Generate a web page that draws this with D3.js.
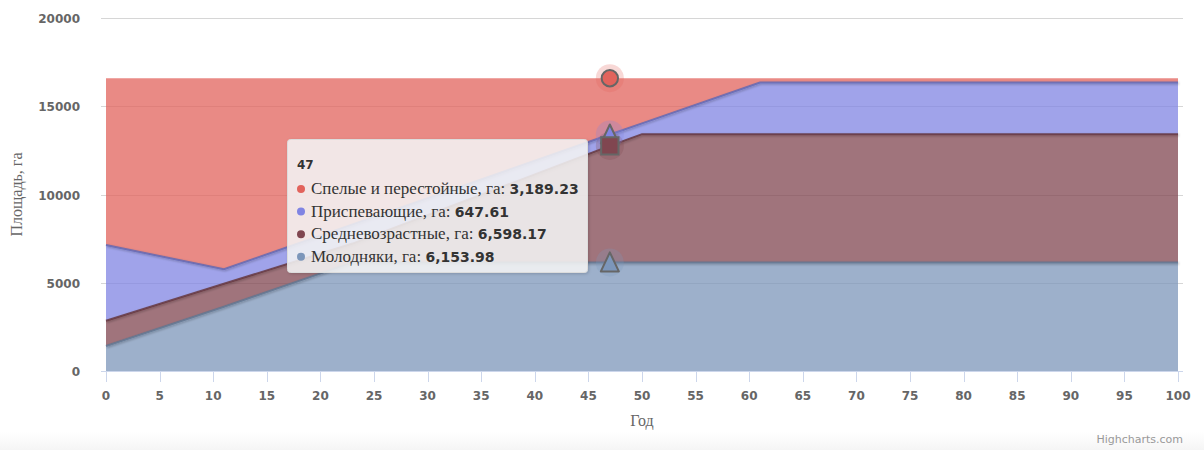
<!DOCTYPE html>
<html>
<head>
<meta charset="utf-8">
<script src="https://cdn.jsdelivr.net/npm/d3@7"></script>
<style>
  html, body { margin: 0; padding: 0; background: #fff; }
  svg { display: block; }
</style>
</head>
<body>
<div id="chart"></div>
<script>
// ---- data ----
const years = [0, 11, 23, 47, 50, 61, 100];
const seriesNames = ["Спелые и перестойные, га", "Приспевающие, га", "Средневозрастные, га", "Молодняки, га"];
const spelye = [9450, 10827, 8281, 3189.23, 2559, 249, 249];
const prispevayushchie = [4289, 822, 1088, 647.61, 610, 2920, 2920];
const srednevozrastnye = [1430, 1300, 1066, 6598.17, 7266, 7266, 7266];
const molodnyaki = [1420, 3640, 6154, 6153.98, 6154, 6154, 6154];
const xTicks = d3.range(0, 101, 5);
const yTicks = [0, 5000, 10000, 15000, 20000];
const hoverYear = 47;
const xTitle = "Год";
const yTitle = "Площадь, га";

// ---- styles ----
const colors = ["#e2635c", "#8084e3", "#804650", "#7c96ba"];
const markerShapes = ["circle", "triangle", "square", "triangle"];
const W = 1204, H = 450;
const plot = { left: 101, right: 1183, top: 18, bottom: 371 };

const svg = d3.select("#chart").append("svg").attr("width", W).attr("height", H);
const defs = svg.append("defs");
const f = defs.append("filter").attr("id", "shadow").attr("x", "-10%").attr("y", "-10%").attr("width", "130%").attr("height", "130%");
f.append("feDropShadow").attr("dx", 1).attr("dy", 1).attr("stdDeviation", 1).attr("flood-color", "#000").attr("flood-opacity", 0.3);
const f2 = defs.append("filter").attr("id", "tshadow").attr("x", "-10%").attr("y", "-10%").attr("width", "130%").attr("height", "130%");
f2.append("feDropShadow").attr("dx", 1).attr("dy", 1).attr("stdDeviation", 1.5).attr("flood-color", "#000").attr("flood-opacity", 0.18);
const g0 = defs.append("linearGradient").attr("id", "bg").attr("x1", 0).attr("y1", 0).attr("x2", 0).attr("y2", 1);
g0.append("stop").attr("offset", "0%").attr("stop-color", "#ffffff");
g0.append("stop").attr("offset", "100%").attr("stop-color", "#f5f5f5");
svg.append("rect").attr("x", 0).attr("y", 432).attr("width", W).attr("height", H - 432).attr("fill", "url(#bg)");

const x = d3.scaleLinear().domain([0, 100]).range([106, 1178]);
const y = d3.scaleLinear().domain([0, 20000]).range([plot.bottom, plot.top]);

// grid
svg.append("g").selectAll("line").data(yTicks.filter(d => d > 0)).join("line")
  .attr("x1", plot.left).attr("x2", plot.right)
  .attr("y1", d => Math.round(y(d)) + 0.5).attr("y2", d => Math.round(y(d)) + 0.5)
  .attr("stroke", "#d6d6d6").attr("stroke-width", 1);

// stack
const table = years.map((yr, i) => ({ year: yr, s0: spelye[i], s1: prispevayushchie[i], s2: srednevozrastnye[i], s3: molodnyaki[i] }));
const stack = d3.stack().keys(["s3", "s2", "s1", "s0"]);
const layers = stack(table); // bottom to top
const area = d3.area().x(d => x(d.data.year)).y0(d => y(d[0])).y1(d => y(d[1]));
const line = d3.line().x(d => x(d.data.year)).y(d => y(d[1]));

const keyIndex = { s0: 0, s1: 1, s2: 2, s3: 3 };
const gSeries = svg.append("g");
layers.forEach(L => {
  const c = colors[keyIndex[L.key]];
  gSeries.append("path").attr("d", area(L)).attr("fill", c).attr("fill-opacity", 0.75);
});
layers.forEach(L => {
  const c = colors[keyIndex[L.key]];
  gSeries.append("path").attr("d", line(L)).attr("fill", "none")
    .attr("stroke", d3.color(c).darker(0.7)).attr("stroke-width", 2).attr("stroke-opacity", 0.85)
    .attr("filter", "url(#shadow)");
});

// x axis
const xa = svg.append("g");
xa.append("line").attr("x1", plot.left).attr("x2", plot.right).attr("y1", 371.5).attr("y2", 371.5).attr("stroke", "#ccd6eb");
xa.selectAll(".tk").data(xTicks).join("line")
  .attr("x1", d => Math.round(x(d)) + 0.5).attr("x2", d => Math.round(x(d)) + 0.5)
  .attr("y1", 372).attr("y2", 382).attr("stroke", "#ccd6eb");
xa.selectAll("text").data(xTicks).join("text")
  .attr("x", d => x(d)).attr("y", 400).attr("text-anchor", "middle")
  .attr("font-family", "DejaVu Sans").attr("font-weight", "bold").attr("font-size", 12).attr("fill", "#666")
  .text(d => d);
svg.append("text").attr("x", x(50)).attr("y", 426).attr("text-anchor", "middle")
  .attr("font-family", "Liberation Serif").attr("font-size", 16).attr("fill", "#666").text(xTitle);

// y axis labels
svg.append("g").selectAll("text").data(yTicks).join("text")
  .attr("x", 80).attr("y", d => y(d) + 5).attr("text-anchor", "end")
  .attr("font-family", "DejaVu Sans").attr("font-weight", "bold").attr("font-size", 12).attr("fill", "#666")
  .text(d => d);
svg.append("text").attr("transform", `translate(22,${(plot.top + plot.bottom) / 2}) rotate(-90)`)
  .attr("text-anchor", "middle").attr("font-family", "Liberation Serif").attr("font-size", 16).attr("fill", "#666").text(yTitle);

// hover markers
const hi = years.indexOf(hoverYear);
const hx = x(hoverYear);
const gm = svg.append("g");
layers.forEach(L => {
  const k = keyIndex[L.key];
  const cy = y(L[hi][1]);
  gm.append("circle").attr("cx", hx).attr("cy", cy).attr("r", 14).attr("fill", colors[k]).attr("fill-opacity", 0.25);
});
// draw markers top series first so lower ones overlay? order: top to bottom
[0, 1, 2, 3].forEach(k => {
  const L = layers.find(l => keyIndex[l.key] === k);
  const cy = y(L[hi][1]);
  const shape = markerShapes[k];
  const fill = colors[k];
  let sym;
  if (shape === "circle") sym = d3.symbol(d3.symbolCircle, 210);
  else if (shape === "square") sym = d3.symbol(d3.symbolSquare, 300);
  else sym = null;
  if (sym) {
    gm.append("path").attr("d", sym()).attr("transform", `translate(${hx},${cy})`)
      .attr("fill", fill).attr("stroke", "#666").attr("stroke-width", 2);
  } else {
    gm.append("path").attr("d", "M0,-10L9,9L-9,9Z").attr("transform", `translate(${hx},${cy})`)
      .attr("fill", fill).attr("stroke", "#666").attr("stroke-width", 2).attr("stroke-linejoin", "round");
  }
});
// ensure the square sits over the blue triangle like reference
gm.selectAll("path").filter((d, i) => i === 2).raise();

// tooltip
const tt = svg.append("g").attr("transform", "translate(287,139)");
tt.append("rect").attr("x", 0.5).attr("y", 0.5).attr("width", 300).attr("height", 133).attr("rx", 3)
  .attr("fill", "rgba(247,247,247,0.85)").attr("stroke", "#dcdcdc").attr("filter", "url(#tshadow)");
tt.append("text").attr("x", 10).attr("y", 30).attr("font-family", "DejaVu Sans").attr("font-weight", "bold")
  .attr("font-size", 12).attr("fill", "#333").text(hoverYear);
const vals = [spelye[hi], prispevayushchie[hi], srednevozrastnye[hi], molodnyaki[hi]];
const fmt = d3.format(",.2f");
seriesNames.forEach((n, i) => {
  const ty = 55 + i * 22.6;
  tt.append("circle").attr("cx", 14).attr("cy", ty - 5).attr("r", 4).attr("fill", colors[i]);
  const t = tt.append("text").attr("x", 24).attr("y", ty).attr("fill", "#333");
  t.append("tspan").attr("font-family", "Liberation Serif").attr("font-size", 17).text(n + ": ");
  t.append("tspan").attr("font-family", "DejaVu Sans").attr("font-weight", "bold").attr("font-size", 14).text(fmt(vals[i]));
});

// credits
svg.append("text").attr("x", 1183).attr("y", 443).attr("text-anchor", "end")
  .attr("font-family", "DejaVu Sans").attr("font-size", 11).attr("fill", "#999").text("Highcharts.com");
</script>
</body>
</html>
